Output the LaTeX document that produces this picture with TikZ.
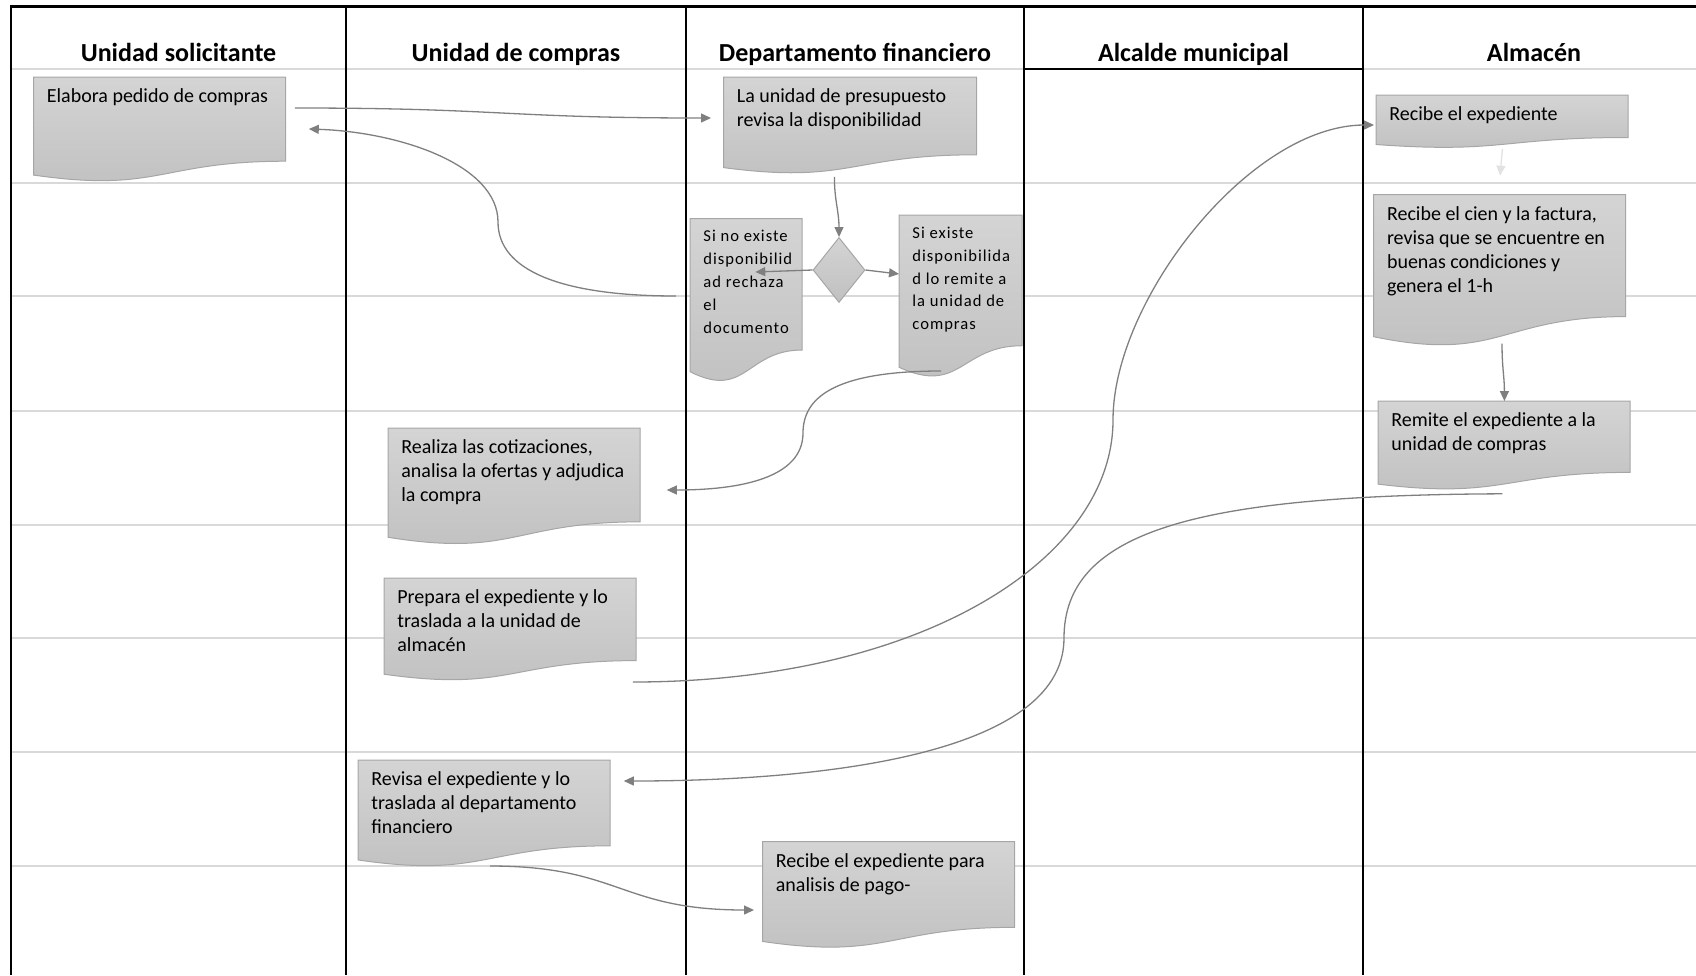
\documentclass[tikz,border=0pt]{standalone}
\usepackage{fontspec}
\setmainfont{Carlito}
\newfontfamily\spacedfont[LetterSpace=6]{Carlito}
\usepackage{tikz}
\usetikzlibrary{arrows.meta,calc,shapes.geometric}
\definecolor{lanegrid}{HTML}{D9D9D9}
\definecolor{doctop}{HTML}{D4D4D4}
\definecolor{docbot}{HTML}{C0C0C0}
\definecolor{docline}{HTML}{A6A6A6}
\definecolor{flow}{HTML}{7F7F7F}
\definecolor{faint}{HTML}{E2E2E2}

\tikzset{
  lane/.style={line width=1.25pt},
  gridline/.style={draw=lanegrid, line width=1pt},
  header/.style={font=\fontsize{13}{15}\selectfont\bfseries, anchor=base},
  docshape/.style={draw=docline, line width=0.5pt, top color=doctop, bottom color=docbot},
  doctext/.style={inner xsep=6.5pt, inner ysep=5.8pt, align=left, font=\fontsize{10}{12}\selectfont},
  narrowtext/.style={font=\spacedfont\fontsize{8.3}{11.4}\selectfont},
  decision/.style={diamond, draw=docline, line width=0.5pt, top color=doctop, bottom color=docbot,
    minimum width=26pt, minimum height=32.5pt, inner sep=0pt},
  flowline/.style={draw=flow, line width=0.65pt, -{Triangle[length=5pt,width=4.5pt]}},
}

% document box: [text opts]{name}{x}{y}{width}{height}{text}, sizes in px
\newcommand{\docbox}[7][]{%
  \path[docshape] (#3,#4) -- (#3+#5,#4) -- (#3+#5,#4+0.802*#6)
    .. controls (#3+0.5*#5,#4+0.802*#6) and (#3+0.5*#5,#4+1.107*#6) .. (#3,#4+0.934*#6) -- cycle;
  \node[anchor=north west, inner sep=0pt, minimum width=#5*0.5pt, minimum height=#6*0.5pt] (#2) at (#3,#4) {};
  \node[doctext, anchor=north west, #1] (#2-t) at (#2.north west) {#7};
}

\begin{document}
\begin{tikzpicture}[x=0.5pt, y=-0.5pt]
\useasboundingbox (0,0) rectangle (1696,975);

% row lines
\foreach \y in {69,183,296,411,525,638,752,866}
  \draw[gridline] (11,\y) -- (1696,\y);

% lanes
\draw[lane] (11,975) -- (11,6.5) -- (1696,6.5);
\draw[lane] (346,6.5) -- (346,975);
\draw[lane] (686,6.5) -- (686,975);
\draw[lane] (1024,6.5) -- (1024,975);
\draw[lane] (1363,6.5) -- (1363,975);
\draw[lane] (1024,69) -- (1363,69);

\node[header] (hsol) at (178.5,61) {Unidad solicitante};
\node[header] (hcom) at (516,61) {Unidad de compras};
\node[header] (hfin) at (855,61) {Departamento financiero};
\node[header] (halc) at (1193.5,61) {Alcalde municipal};
\node[header] (halm) at (1534,61) {Almacén};

% boxes
\docbox{elab}{33.5}{77}{252}{105}{Elabora pedido de compras}
\docbox{presu}{723.5}{77}{253}{97}{La unidad de presupuesto\\revisa la disponibilidad}
\docbox[narrowtext]{rech}{690}{218.5}{112}{164}{Si no existe\\disponibilid\\ad rechaza\\el\\documento}
\docbox[narrowtext]{remi}{899}{215}{123}{163}{Si existe\\disponibilida\\d lo remite a\\la unidad de\\compras}
\docbox{coti}{388}{428}{252}{117}{Realiza las cotizaciones,\\analisa la ofertas y adjudica\\la compra}
\docbox{prep}{384}{578}{252}{103}{Prepara el expediente y lo\\traslada a la unidad de\\almacén}
\docbox{revi}{358}{760}{252}{107}{Revisa el expediente y lo\\traslada al departamento\\financiero}
\docbox{pago}{762.5}{841.5}{252}{107}{Recibe el expediente para\\analisis de pago-}
\docbox{reci}{1376}{95}{252}{53}{Recibe el expediente}
\docbox{cien}{1373.6}{194.7}{252}{152}{Recibe el cien y la factura,\\revisa que se encuentre en\\buenas condiciones y\\genera el 1-h}
\docbox{almr}{1378}{401}{252}{89}{Remite el expediente a la\\unidad de compras}

\node[decision] (dec) at (839,270) {};

% connectors
\draw[flowline] ($(elab.north east)+(8.5,31)$) .. controls +(208,0) and +(-208,0) .. ($(presu.north west)+(-12.5,41)$);
\draw[flowline] ($(rech.north west)+(-14,77.5)$) .. controls (560,296) and (498,270) .. (498,222)
  .. controls (498,165) and (400,132) .. ($(elab.north east)+(22.5,52)$);
\draw[flowline] ($(presu.south)+(-16,2)$) .. controls +(0,24) and +(0,-26) .. (dec.north);
\draw[flowline] (dec.west) -- ($(rech.north east)+(-47.5,53.5)$);
\draw[flowline] (dec.east) -- ($(remi.north west)+(0,59)$);
\draw[flowline] ($(remi.north west)+(42,156)$) .. controls (830,371) and (803,400) .. (803,433)
  .. controls (803,478) and (740,490) .. ($(coti.north east)+(26,62)$);
\draw[flowline] ($(prep.north east)+(-4,104)$) .. controls (920,682) and (1113,560) .. (1113,420)
  .. controls (1113,300) and (1250,125) .. ($(reci.north west)+(-2,30)$);
\draw[flowline, draw=faint] (reci.south) -- ($(cien.north)+(0,-19)$);
\draw[flowline] ($(cien.south)+(2,-4)$) .. controls +(0,25) and +(0,-25) .. (almr.north);
\draw[flowline] ($(almr.south)+(-2,3)$) .. controls (1200,495) and (1064,530) .. (1064,638)
  .. controls (1064,760) and (800,781) .. ($(revi.north east)+(13,21)$);
\draw[flowline] ($(revi.north west)+(132,106)$) .. controls +(130,0) and +(-134,0) .. ($(pago.north west)+(-8.5,68.5)$);
\end{tikzpicture}
\end{document}
